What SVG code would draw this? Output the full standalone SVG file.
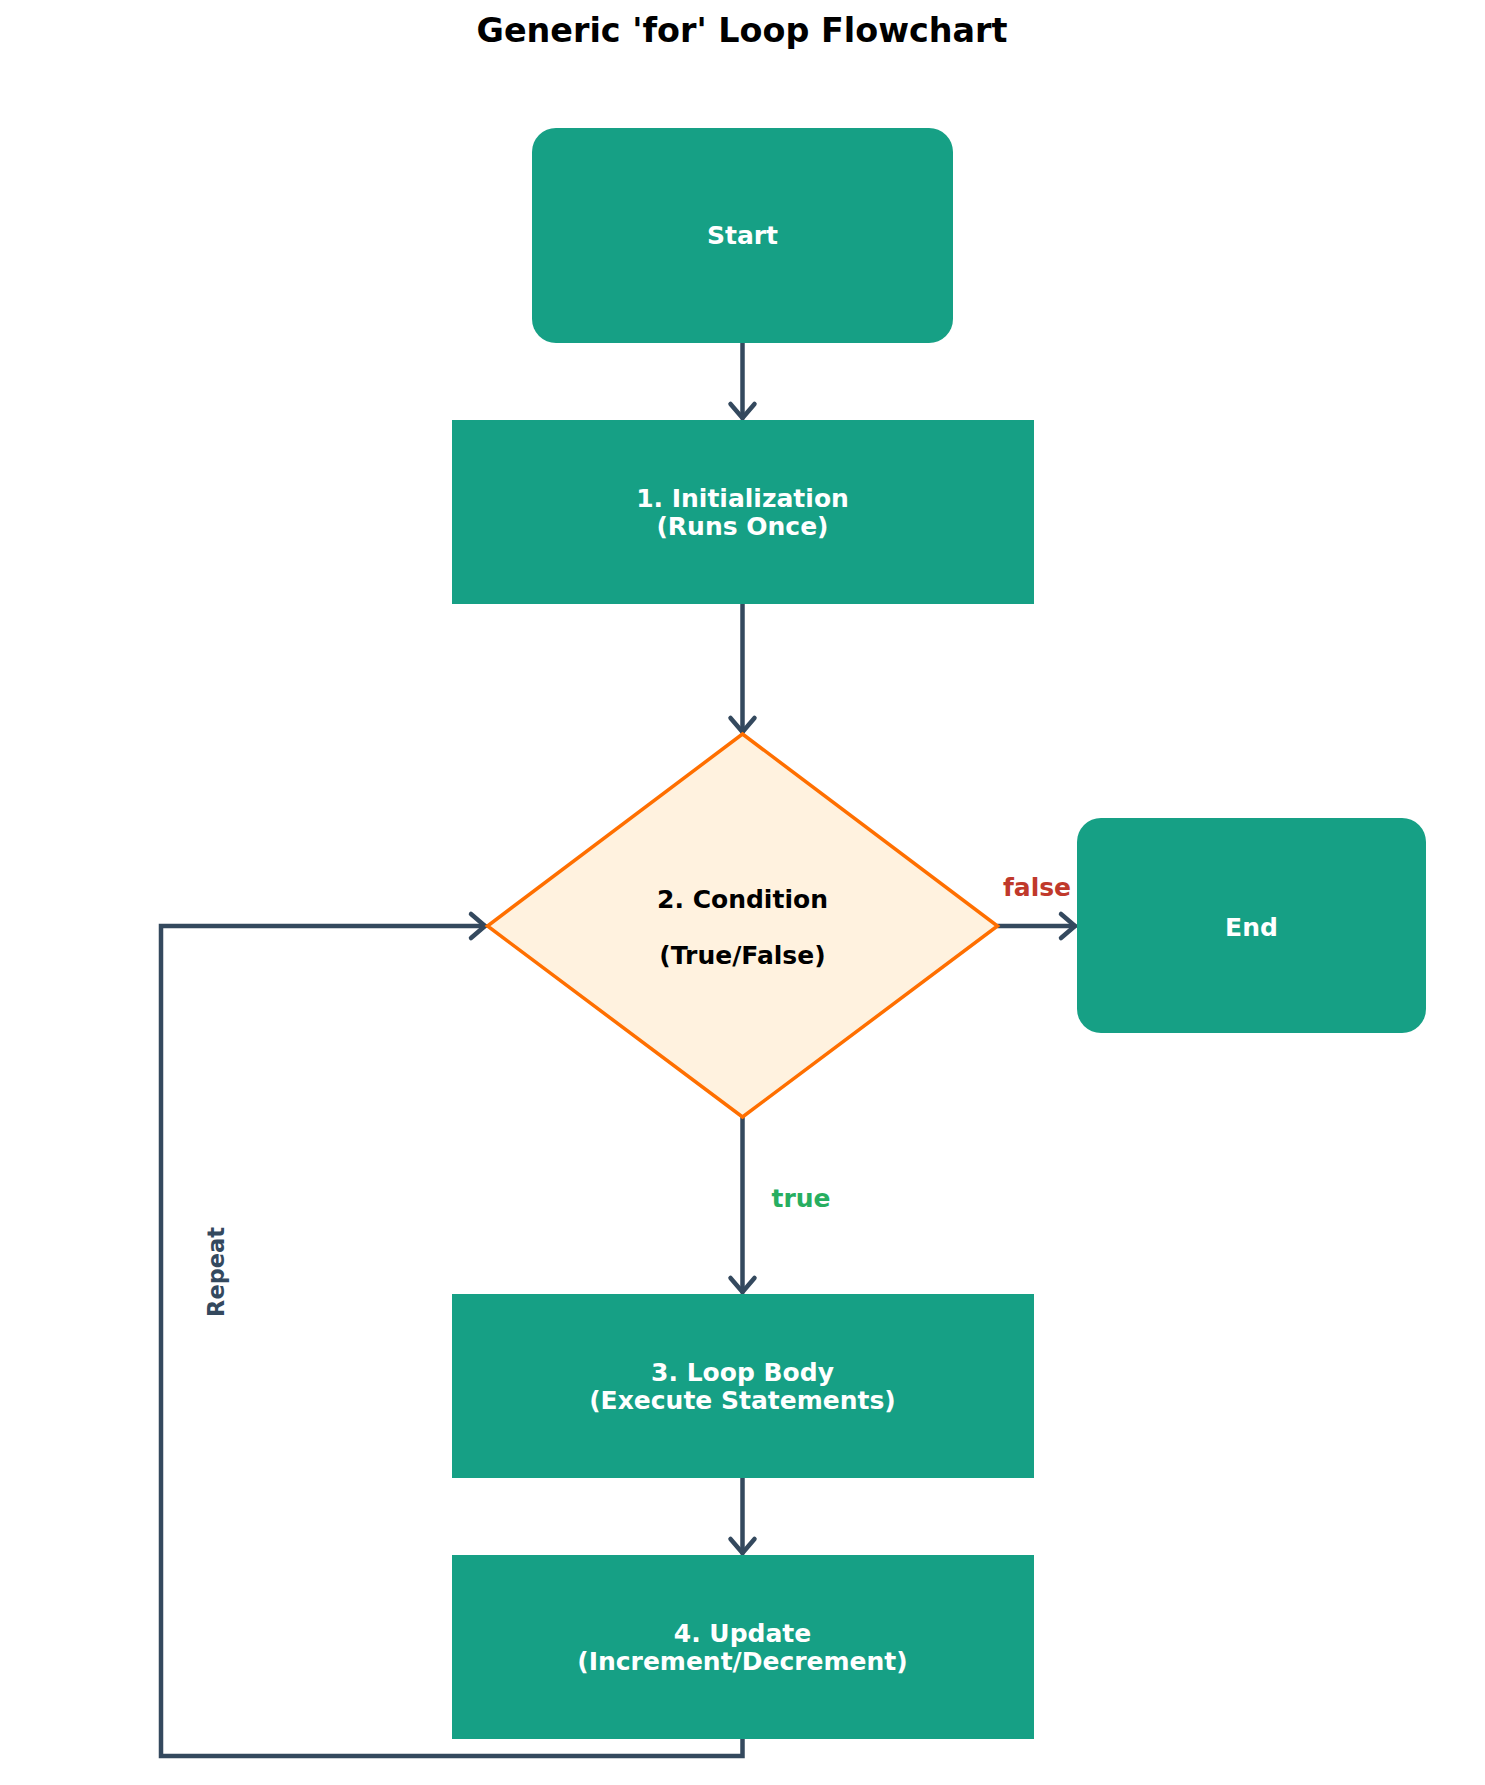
<svg xmlns="http://www.w3.org/2000/svg" width="1485" height="1785" viewBox="0 0 1485 1785">
<style>
.box{fill:#16A085;}
.lbl{font-family:"DejaVu Sans",sans-serif;font-weight:bold;font-size:25px;text-anchor:middle;fill:#FFFFFF;}
.dark{fill:#000000;}
.conn{fill:none;stroke:#34495E;stroke-width:4.5;stroke-linecap:round;stroke-linejoin:miter;}
.title{font-family:"DejaVu Sans",sans-serif;font-weight:bold;font-size:33.4px;text-anchor:middle;fill:#000000;}
</style>
<defs>
<marker id="arr" markerUnits="userSpaceOnUse" markerWidth="40" markerHeight="40" viewBox="-20 -20 40 40" refX="0" refY="0" orient="auto">
<path d="M-14,-12 L0,0 L-14,12" fill="none" stroke="#34495E" stroke-width="4.5" stroke-linecap="round" stroke-linejoin="round"/>
</marker>
</defs>
<rect width="1485" height="1785" fill="#FFFFFF"/>
<text class="title" x="742" y="42">Generic 'for' Loop Flowchart</text>
<g id="connectors">
<line class="conn" x1="742.5" y1="343" x2="742.5" y2="418" marker-end="url(#arr)"/>
<line class="conn" x1="742.5" y1="604" x2="742.5" y2="732" marker-end="url(#arr)"/>
<line class="conn" x1="742.5" y1="1117" x2="742.5" y2="1292" marker-end="url(#arr)"/>
<line class="conn" x1="742.5" y1="1478" x2="742.5" y2="1553" marker-end="url(#arr)"/>
<line class="conn" x1="997.5" y1="926" x2="1075" y2="926" marker-end="url(#arr)"/>
<path class="conn" d="M742.5,1739 V1756 H161 V926 H485" marker-end="url(#arr)"/>
<text class="lbl" x="1037" y="896" style="fill:#C0392B">false</text>
<text class="lbl" x="801" y="1207" style="fill:#27AE60">true</text>
<text class="lbl" transform="translate(224,1272) rotate(-90)" style="fill:#34495E;font-size:22.5px">Repeat</text>
</g>
<g id="start">
<rect class="box" x="532" y="128" width="421" height="215" rx="24" ry="24"/>
<text class="lbl" x="742.5" y="243.5">Start</text>
</g>
<g id="init">
<rect class="box" x="452" y="420" width="582" height="184"/>
<text class="lbl" x="742.5" y="506.5">1. Initialization</text>
<text class="lbl" x="742.5" y="534.5">(Runs Once)</text>
</g>
<g id="condition">
<polygon points="742.5,734 997.5,926 742.5,1117 487.5,926" fill="#FFF2DF" stroke="#FF6F00" stroke-width="3.5" stroke-linejoin="miter"/>
<text class="lbl dark" x="742.5" y="907.5">2. Condition</text>
<text class="lbl dark" x="742.5" y="963.5">(True/False)</text>
</g>
<g id="end">
<rect class="box" x="1077" y="818" width="349" height="215" rx="24" ry="24"/>
<text class="lbl" x="1251.5" y="935.5">End</text>
</g>
<g id="body">
<rect class="box" x="452" y="1294" width="582" height="184"/>
<text class="lbl" x="742.5" y="1380.5">3. Loop Body</text>
<text class="lbl" x="742.5" y="1408.5">(Execute Statements)</text>
</g>
<g id="update">
<rect class="box" x="452" y="1555" width="582" height="184"/>
<text class="lbl" x="742.5" y="1641.5">4. Update</text>
<text class="lbl" x="742.5" y="1669.5">(Increment/Decrement)</text>
</g>
</svg>
